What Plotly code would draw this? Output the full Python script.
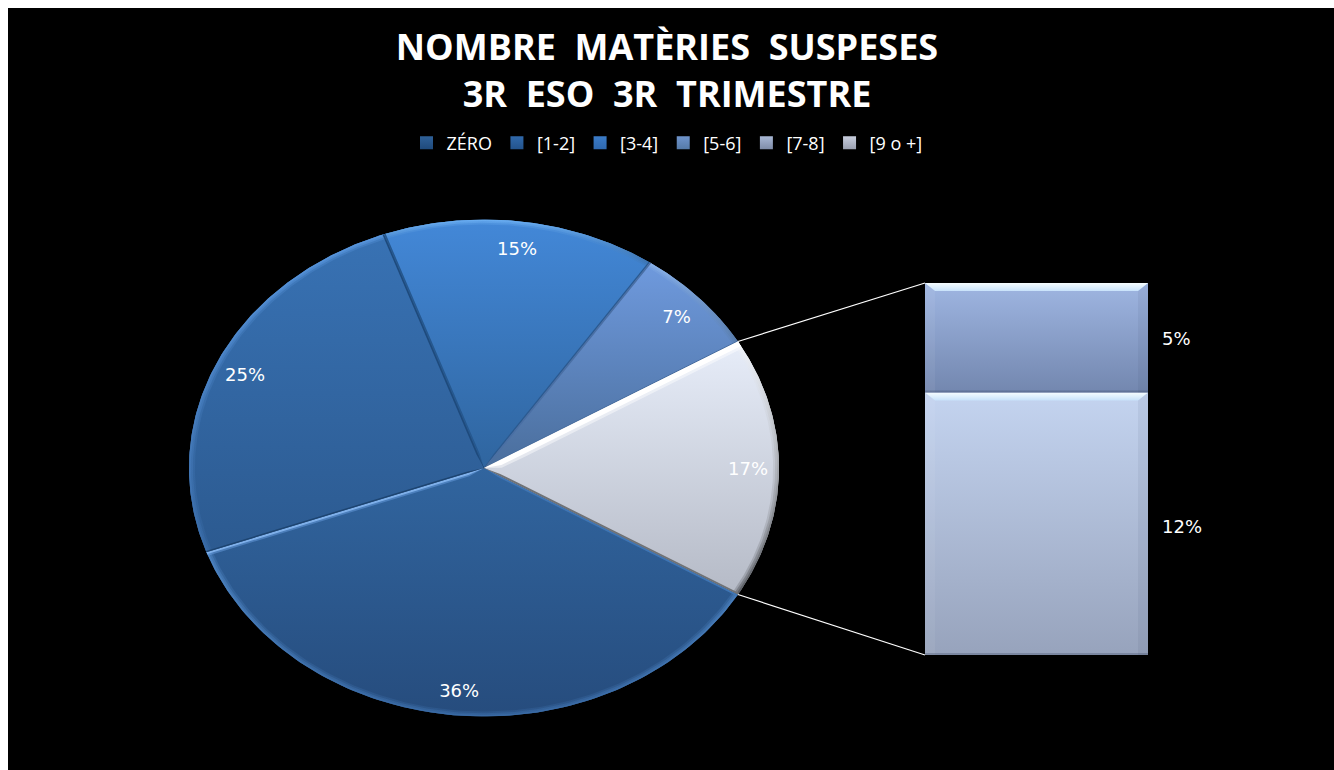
import numpy as np
import plotly.graph_objects as go

# chart data
categories = ["ZÉRO", "[1-2]", "[3-4]", "[5-6]", "[7-8]", "[9 o +]"]
values = [36, 25, 15, 7, 5, 12]
title_lines = ["NOMBRE  MATÈRIES  SUSPESES", "3R  ESO  3R  TRIMESTRE"]

legend_colors = ["#2f6199", "#3069ab", "#3b7cc8", "#6f94cc", "#a9b8d5", "#c8cede"]
legend_tops = ["#1f4a7c", "#23538c", "#2f69b0", "#557aa8", "#7f8ca8", "#9aa0b0"]

# (top colour, bottom colour, rim top, rim bottom) of each pie slice
pie_values = values[:4] + [values[4] + values[5]]
pie_styles = [
    ("#31659f", "#264c7d", "#4f86c4", "#3a6ba6"),
    ("#3872b4", "#2c5a90", "#5a98e0", "#3a6ca8"),
    ("#4388d8", "#2f659f", "#6cb0f4", "#3a70ac"),
    ("#6f9ade", "#4a6e9c", "#8cb4ea", "#567aa8"),
    ("#e7edf9", "#b5bac6", "#f4f7fc", "#55585e"),
]
bar_values = values[4:]
bar_styles = [("#9fb6e2", "#7387af"), ("#c4d4f0", "#97a3bc")]

W, H = 1326, 762
# plot boxes in page pixels
PIE_BOX = (189, 779, 219.5, 716.5)
BAR_BOX = (925, 1148, 283, 655)
BAR_LABEL_ROOM = 0.3
START_DEG = 30.6


def px_x(x):
    return (x - 8) / W


def px_y(y):
    return (770 - y) / H


def rgba(hex_color, alpha):
    r, g, b = int(hex_color[1:3], 16), int(hex_color[3:5], 16), int(hex_color[5:7], 16)
    return f"rgba({r},{g},{b},{alpha})"


def ring_xy(deg, r=1.0):
    a = np.radians(deg)
    return r * np.cos(a), -r * np.sin(a)


def wedge(a0, a1):
    t = np.linspace(a0, a1, 120)
    x, y = ring_xy(t)
    return np.r_[0, x, 0], np.r_[0, y, 0]


def band(a0, a1, r0, r1=1.0):
    t = np.linspace(a0, a1, 120)
    xo, yo = ring_xy(t, r1)
    xi, yi = ring_xy(t[::-1], r0)
    return np.r_[xo, xi, xo[0]], np.r_[yo, yi, yo[0]]


def strip(a, width_px):
    # thin sliver along a slice edge, about the same width from centre to rim
    r = np.array([0.06, 0.15, 0.3, 0.5, 0.75, 1.0])
    off = np.degrees(width_px / (r * 270))
    xa, ya = ring_xy(a + off, r)
    xb, yb = ring_xy(a, 1.0)
    return np.r_[0, xa, xb, 0], np.r_[0, ya, yb, 0]


def filled(x, y, top, bottom, xaxis="x", yaxis="y"):
    ymin, ymax = float(np.min(y)), float(np.max(y))
    return go.Scatter(
        x=x, y=y, xaxis=xaxis, yaxis=yaxis, mode="lines", fill="toself",
        line=dict(width=0), showlegend=False, hoverinfo="skip",
        fillgradient=dict(type="vertical", start=ymin, stop=ymax,
                          colorscale=[[0, bottom], [1, top]]),
    )


def flat(x, y, color, xaxis="x", yaxis="y"):
    return go.Scatter(x=x, y=y, xaxis=xaxis, yaxis=yaxis, mode="lines", fill="toself", fillcolor=color,
                      line=dict(width=0), showlegend=False, hoverinfo="skip")


fig = go.Figure()

# pie slices
edges = START_DEG + np.r_[0, np.cumsum(pie_values)] * 3.6
for i, style in enumerate(pie_styles):
    x, y = wedge(edges[i], edges[i + 1])
    fig.add_trace(filled(x, y, style[0], style[1]))

# soft rim on each slice
for i, style in enumerate(pie_styles):
    for r0, alpha in [(0.98, 0.3), (0.987, 0.5), (0.994, 0.8)]:
        x, y = band(edges[i], edges[i + 1], r0)
        fig.add_trace(filled(x, y, rgba(style[2], alpha), rgba(style[3], alpha)))

# bevels along the slice edges: (angle, width in pixels, colour)
bevels = [
    (edges[0], 2.0, "#3f75b4"),
    (edges[0], -2.0, "#6f7276"),
    (edges[1], -4.0, "rgba(110,165,230,0.45)"),
    (edges[1], -2.2, "#7fb0ea"),
    (edges[1], 1.5, "#1d4470"),
    (edges[2], -1.5, "#1e4a7c"),
    (edges[2], 1.5, "#26588f"),
    (edges[3], -1.2, "#2b5a90"),
    (edges[3], 1.5, "#4a6fa4"),
    (edges[4], -1.0, "#466c9e"),
    (edges[4], 8.5, "rgba(255,255,255,0.45)"),
    (edges[4], 5.5, "#ffffff"),
]
for a, w_px, color in bevels:
    x, y = strip(a, w_px)
    fig.add_trace(flat(x, y, color))

# stacked bar of the split slice
fig.add_trace(go.Bar(x=[0], y=[bar_values[1]], width=1, marker=dict(color=bar_styles[1][1], line=dict(width=0)),
                     xaxis="x2", yaxis="y2", showlegend=False, hoverinfo="skip"))
fig.add_trace(go.Bar(x=[0], y=[bar_values[0]], width=1, marker=dict(color=bar_styles[0][1], line=dict(width=0)),
                     xaxis="x2", yaxis="y2", showlegend=False, hoverinfo="skip"))

bar_total = sum(bar_values)
bar_px = BAR_BOX[1] - BAR_BOX[0]
dx = 10 / bar_px
dy = 8 * bar_total / (BAR_BOX[3] - BAR_BOX[2])
segments = [(0, bar_values[1], bar_styles[1]), (bar_values[1], bar_total, bar_styles[0])]
for low, high, style in segments:
    fig.add_trace(filled([-0.5, 0.5, 0.5, -0.5, -0.5], [low, low, high, high, low],
                         style[0], style[1], "x2", "y2"))
    # left, right, bottom and top bevel
    fig.add_trace(flat([-0.5, -0.5 + dx, -0.5 + dx, -0.5, -0.5], [high, high - dy, low, low, high],
                       "rgba(255,255,255,0.06)", "x2", "y2"))
    fig.add_trace(flat([0.5, 0.5 - dx, 0.5 - dx, 0.5, 0.5], [high, high - dy, low, low, high],
                       "rgba(40,50,80,0.07)", "x2", "y2"))
    fig.add_trace(flat([-0.5, 0.5, 0.5, -0.5, -0.5],
                       [low, low, low + dy * 0.25, low + dy * 0.25, low],
                       "rgba(40,50,80,0.25)", "x2", "y2"))
    fig.add_trace(filled([-0.5, 0.5, 0.5 - dx, -0.5 + dx, -0.5],
                         [high, high, high - dy, high - dy, high],
                         "#f6fdff", "#c8e2fa", "x2", "y2"))

# percentage labels
mids = (edges[:-1] + edges[1:]) / 2
lx, ly = ring_xy(mids, 0.895)
fig.add_trace(go.Scatter(x=lx, y=ly - 0.012, mode="text", text=[f"{v}%" for v in pie_values],
                         textfont=dict(family="DejaVu Sans", size=18, color="white"),
                         showlegend=False, hoverinfo="skip"))
bar_mids = [bar_values[1] / 2 - 0.2, bar_values[1] + bar_values[0] / 2 - 0.12]
bar_labels = [f"{bar_values[1]}%", f"{bar_values[0]}%"]
fig.add_trace(go.Scatter(x=[0.563, 0.563], y=bar_mids, xaxis="x2", yaxis="y2", mode="text",
                         text=bar_labels, textposition="middle right", cliponaxis=False,
                         textfont=dict(family="DejaVu Sans", size=18, color="white"),
                         showlegend=False, hoverinfo="skip"))

# legend entries
for name, c, top in zip(categories, legend_colors, legend_tops):
    fig.add_trace(go.Scatter(x=[None], y=[None], mode="markers", name=name,
                             marker=dict(symbol="square", size=13, color=c,
                                         gradient=dict(type="vertical", color=top))))

# connector lines from the split slice to the bar
sx = lambda v: px_x(PIE_BOX[0] + (v + 1) / 2 * (PIE_BOX[1] - PIE_BOX[0]))
sy = lambda v: px_y(PIE_BOX[2] + (1 - v) / 2 * (PIE_BOX[3] - PIE_BOX[2]))
shapes = []
for a, bar_y in [(edges[4], BAR_BOX[2]), (edges[5], BAR_BOX[3])]:
    cx, cy = ring_xy(a)
    shapes.append(dict(type="line", xref="paper", yref="paper", x0=sx(cx), y0=sy(cy),
                       x1=px_x(BAR_BOX[0]), y1=px_y(bar_y), line=dict(color="white", width=1.2)))

hidden = dict(visible=False, fixedrange=True)
fig.update_layout(
    margin=dict(l=0, r=0, t=0, b=0),
    paper_bgcolor="black", plot_bgcolor="black", barmode="stack",
    title=dict(text="<br>".join(title_lines), x=px_x(667), xanchor="center", y=px_y(60), yanchor="middle",
               yref="container", font=dict(family="Open Sans", size=36, color="white", weight="bold")),
    legend=dict(orientation="h", traceorder="normal", x=px_x(667), xanchor="center", y=px_y(143), yanchor="middle",
                bgcolor="rgba(0,0,0,0)", font=dict(family="Open Sans", size=18, color="white")),
    xaxis=dict(domain=[px_x(PIE_BOX[0]), px_x(PIE_BOX[1])], range=[-1, 1], **hidden),
    yaxis=dict(domain=[px_y(PIE_BOX[3]), px_y(PIE_BOX[2])], range=[-1, 1], **hidden),
    xaxis2=dict(domain=[px_x(BAR_BOX[0]), px_x(BAR_BOX[1] + BAR_LABEL_ROOM * bar_px)],
                range=[-0.5, 0.5 + BAR_LABEL_ROOM], anchor="y2", **hidden),
    yaxis2=dict(domain=[px_y(BAR_BOX[3]), px_y(BAR_BOX[2])], range=[0, bar_total], anchor="x2", **hidden),
    shapes=shapes,
)

# the white page edge only runs along the top and left
fig.write_html("out.html", default_width=f"{W}px", default_height=f"{H}px",
               post_script="document.body.style.margin='8px 0 0 8px';")
